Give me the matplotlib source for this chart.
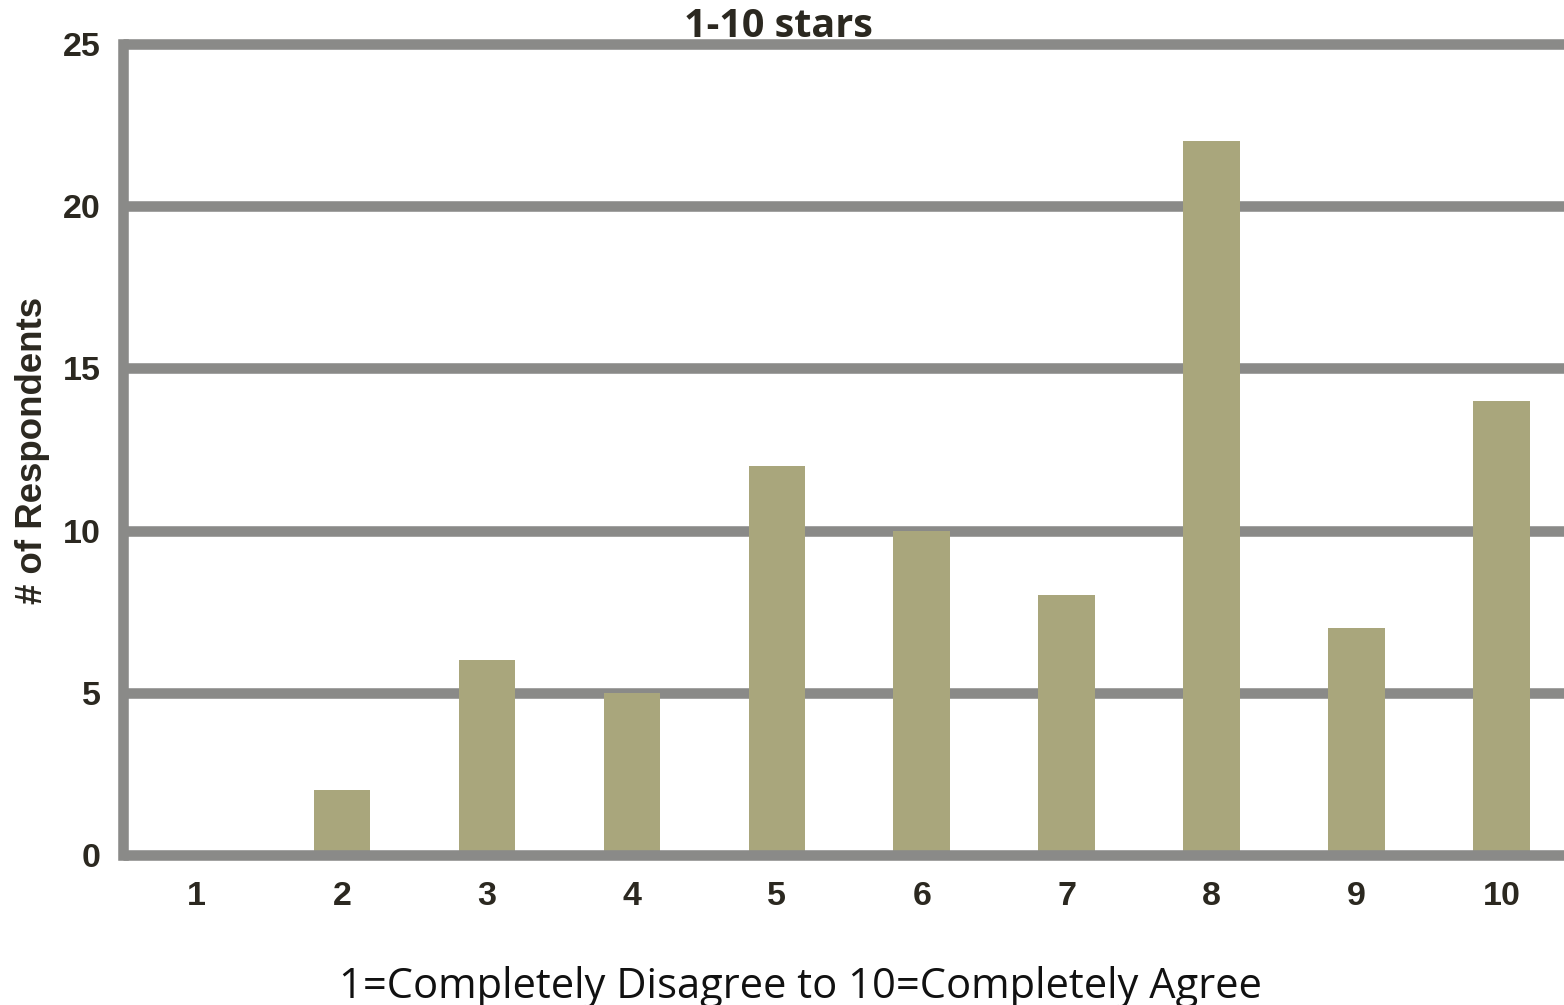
import matplotlib
matplotlib.use("Agg")
import matplotlib.pyplot as plt
from matplotlib import font_manager

# Survey responses on a 1-10 scale
ratings = [1, 2, 3, 4, 5, 6, 7, 8, 9, 10]
respondents = [0, 2, 6, 5, 12, 10, 8, 22, 7, 14]
y_ticks = [0, 5, 10, 15, 20, 25]

title_text = "1-10 stars"
x_label = "1=Completely Disagree to 10=Completely Agree"
y_label = "# of Respondents"

bar_color = "#a9a67c"
grid_color = "#8a8a88"
text_color = "#2b2820"

names = {f.name for f in font_manager.fontManager.ttflist}
narrow = "Liberation Sans Narrow" if "Liberation Sans Narrow" in names else "Liberation Sans"

fig = plt.figure(figsize=(15.64, 10.05), dpi=100)
ax = fig.add_axes([0.0786, 0.1493, 0.9214, 0.8069])

ax.bar(ratings, respondents, width=0.39, color=bar_color, zorder=3)

ax.set_xlim(0.49, 10.43)
ax.set_ylim(0, 25)
ax.set_yticks(y_ticks)
ax.set_xticks(ratings)

# thick horizontal gridlines instead of a frame
for y in y_ticks:
    ax.axhline(y, color=grid_color, lw=7.6, zorder=2 if y > 0 else 4,
               solid_capstyle="butt", clip_on=False)
for s in ["top", "right", "bottom"]:
    ax.spines[s].set_visible(False)
ax.spines["left"].set_color(grid_color)
ax.spines["left"].set_linewidth(7.6)
ax.spines["left"].set_bounds(0, 25)
ax.spines["left"].set_capstyle("projecting")
ax.spines["left"].set_zorder(5)

ax.tick_params(axis="both", length=0, colors=text_color)
ax.tick_params(axis="y", pad=16)
ax.tick_params(axis="x", pad=19)
for lbl in ax.get_yticklabels() + ax.get_xticklabels():
    lbl.set_fontfamily("Liberation Sans")
    lbl.set_fontweight("bold")
    lbl.set_fontsize(24.5)

fig.text(0.4975, 0.963, title_text, ha="center", va="baseline",
         fontfamily="Open Sans", fontweight="bold", fontsize=28.5, color=text_color)
fig.text(0.5115, 0.007, x_label, ha="center", va="baseline",
         fontfamily="Open Sans", fontsize=30, color="#111111")
fig.text(0.021, 0.552, y_label, ha="center", va="center", rotation=90,
         fontfamily=narrow, fontweight="bold", fontsize=26.4, color=text_color)

fig.savefig("out.png", dpi=100, facecolor="white")
